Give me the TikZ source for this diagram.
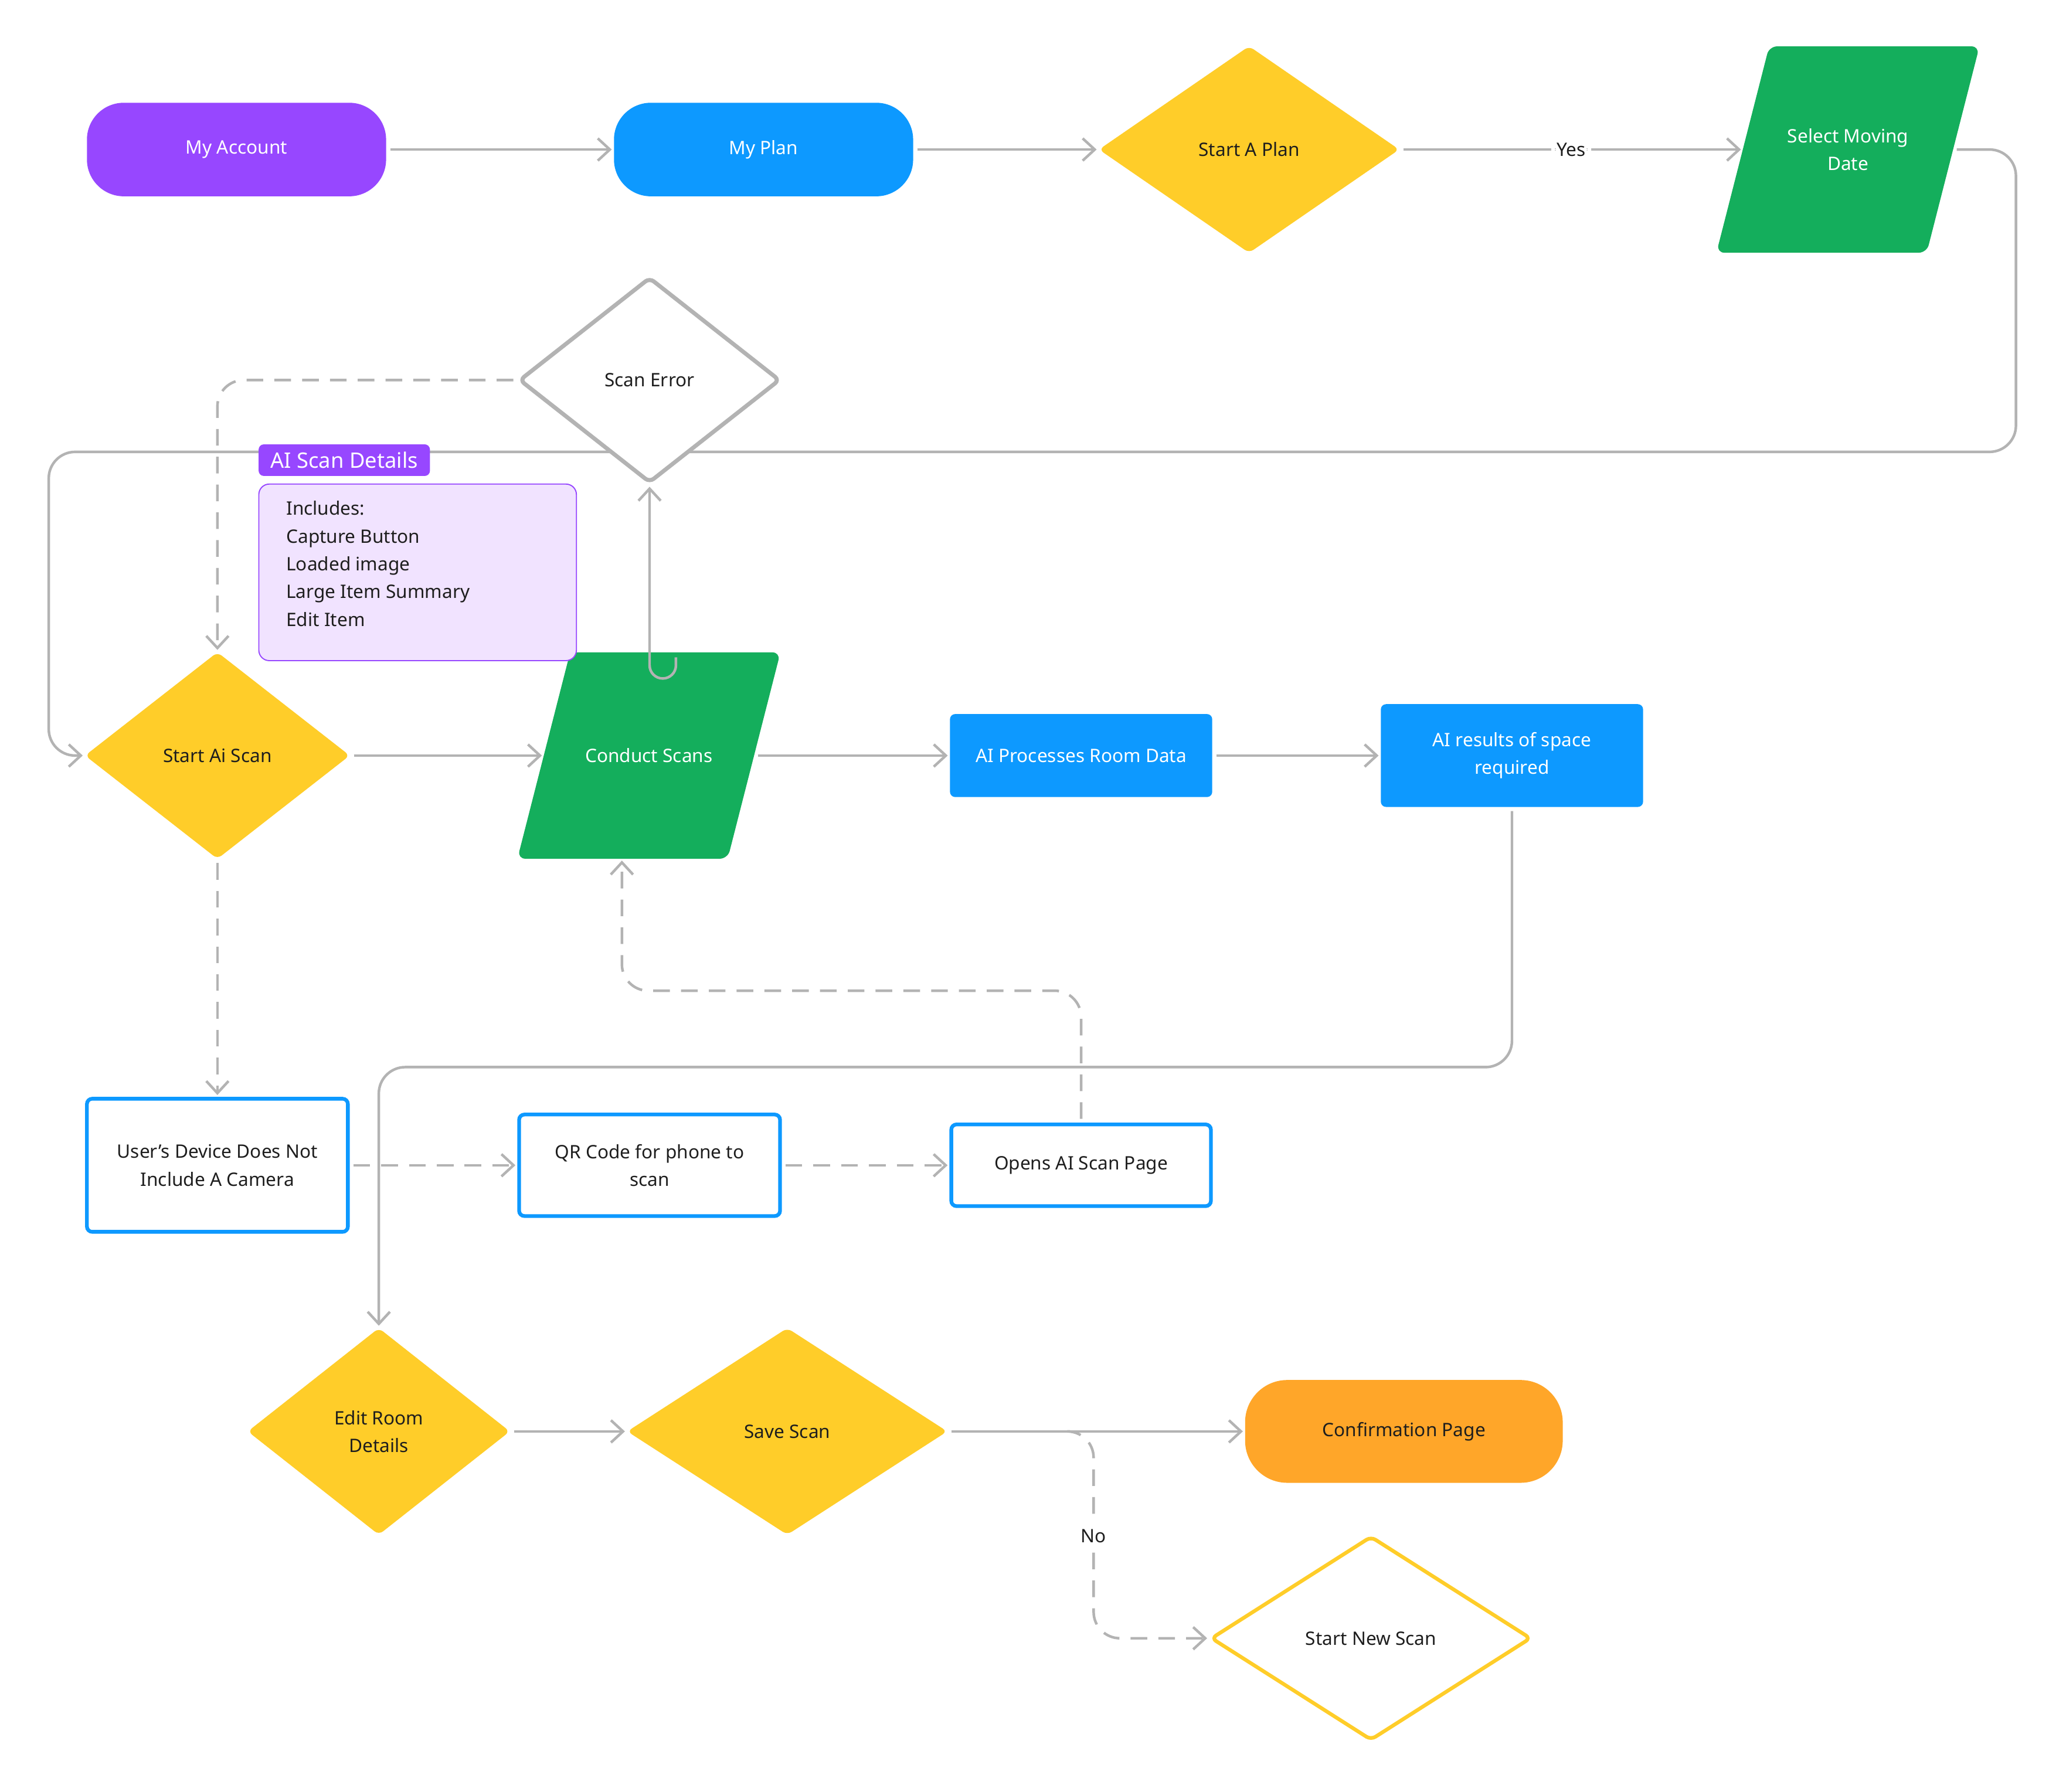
\documentclass[tikz,border=0pt]{standalone}
\usepackage{fontspec}
\setmainfont{Noto Sans}
\usetikzlibrary{shapes.geometric,arrows.meta}
\definecolor{purp}{HTML}{9747FF}
\definecolor{blu}{HTML}{0D99FF}
\definecolor{yel}{HTML}{FFCD29}
\definecolor{grn}{HTML}{14AE5C}
\definecolor{orn}{HTML}{FFA629}
\definecolor{gry}{HTML}{B3B3B3}
\definecolor{txt}{HTML}{1E1E1E}
\definecolor{lav}{HTML}{F1E3FF}
\pgfdeclarelayer{bg}
\pgfdeclarelayer{mid}
\pgfsetlayers{bg,mid,main}
\begin{document}
\begin{tikzpicture}[x=0.025cm,y=-0.025cm,
  base/.style={inner sep=0pt, font=\fontsize{10}{15}\selectfont, align=center, text=txt},
  pill/.style={base, rectangle, rounded corners=7mm},
  dia/.style={base, diamond, rounded corners=1mm},
  para/.style={base, rectangle, minimum width=39.75mm, minimum height=39mm},
  parafill/.style={fill=grn, rounded corners=1.5mm},
  box/.style={base, rectangle, rounded corners=1mm},
  wbox/.style={box, fill=white, draw=blu, line width=2pt},
  conn/.style={draw=gry, line width=1.4pt, -{Straight Barb[length=6.5pt,width=12pt]},
    rounded corners=5mm, shorten <=2pt, shorten >=1pt},
  dsh/.style={conn, dash pattern=on 9pt off 6pt},
  lbl/.style={base, fill=white, inner sep=3pt}
]
\useasboundingbox (0,0) rectangle (1568,1360);

% nodes
\node[pill, fill=purp, text=white, minimum width=56.75mm, minimum height=17.75mm] (acc) at (179.5,113.5) {My Account};
\node[pill, fill=blu, text=white, minimum width=56.75mm, minimum height=17.75mm] (plan) at (579.5,113.5) {My Plan};
\node[dia, fill=yel, minimum width=57mm, minimum height=39.25mm] (sap) at (948,113.5) {Start A Plan};
\node[para, text=white] (smd) at (1402.5,113.5) {Select Moving\\Date};
\node[dia, fill=white, draw=gry, line width=2.2pt, minimum width=49.5mm, minimum height=39mm] (se) at (493,288.5) {Scan Error};
\node[dia, fill=yel, minimum width=50.25mm, minimum height=39.25mm] (sas) at (165,573.5) {Start Ai Scan};
\node[para, text=white] (cs) at (492.5,573.5) {Conduct Scans};
\node[box, fill=blu, text=white, minimum width=49.75mm, minimum height=15.75mm] (aip) at (820.5,573.5) {AI Processes Room Data};
\node[box, fill=blu, text=white, minimum width=49.75mm, minimum height=19.5mm] (air) at (1147.5,573.5) {AI results of space\\required};
\node[wbox, minimum width=49.5mm, minimum height=25.25mm] (udev) at (165,884.5) {User’s Device Does Not\\Include A Camera};
\node[wbox, minimum width=49.5mm, minimum height=19.25mm] (qr) at (493,884.5) {QR Code for phone to\\scan};
\node[wbox, minimum width=49.25mm, minimum height=15.5mm] (oas) at (820.5,884.5) {Opens AI Scan Page};
\node[dia, fill=yel, minimum width=49.75mm, minimum height=39.25mm] (erd) at (287.5,1086.5) {Edit Room\\Details};
\node[dia, fill=yel, minimum width=60.75mm, minimum height=39.25mm] (ss) at (597.5,1086.5) {Save Scan};
\node[pill, fill=orn, minimum width=60.25mm, minimum height=19.5mm, rounded corners=8mm] (conf) at (1065.5,1086.5) {Confirmation Page};
\node[dia, fill=white, draw=yel, line width=2pt, minimum width=60.75mm, minimum height=38.75mm] (sns) at (1040.5,1243.5) {Start New Scan};

% parallelogram bodies
\begin{pgfonlayer}{mid}
\fill[parafill] ([xshift=5mm]smd.north west) -- ([xshift=5mm]smd.north east)
  -- ([xshift=-5mm]smd.south east) -- ([xshift=-5mm]smd.south west) -- cycle;
\fill[parafill] ([xshift=5mm]cs.north west) -- ([xshift=5mm]cs.north east)
  -- ([xshift=-5mm]cs.south east) -- ([xshift=-5mm]cs.south west) -- cycle;
\end{pgfonlayer}

% note
\node[rectangle, draw=purp, line width=0.6pt, fill=lav, rounded corners=2mm, minimum width=60.25mm, minimum height=33.5mm, anchor=north west, inner sep=0pt] (note) at (196,367) {};
\node[base, align=left, anchor=north west] (notetxt) at (217,380) {Includes:\\Capture Button\\Loaded image\\Large Item Summary\\Edit Item};
\node[rectangle, fill=purp, rounded corners=1mm, minimum width=32.5mm, minimum height=6mm, anchor=north west, inner sep=0pt, text=white, font=\fontsize{11.5}{14}\selectfont] (lab) at (196,337) {AI Scan Details};

\coordinate (c472) at (472,0);
\coordinate (nob) at (812,1086.5);
\coordinate (ustart) at (513,499);

% connectors
\begin{pgfonlayer}{bg}
\fill[white] (0,0) rectangle (1568,1360);
\draw[conn] (acc) -- (plan);
\draw[conn] (plan) -- (sap);
\draw[conn] (sap) -- node[lbl] (yes) {Yes} (smd);
\draw[conn] (smd) -- (1530,113.5) -- (1530,343) -- (37,343) -- (37,573.5) -- (sas);
\draw[dsh] (se) -- (165,288.5) -- (sas);
\draw[conn] (sas) -- (cs);
\draw[conn] (cs) -- (aip);
\draw[conn] (aip) -- (air);
\draw[conn] (air) -- (1147.5,810) -- (287.5,810) -- (erd);
\draw[dsh] (sas) -- (udev);
\draw[dsh] (udev) -- (qr);
\draw[dsh] (qr) -- (oas);
\draw[dsh] (oas) -- (820.5,752) -- (472,752) -- (c472 |- cs.south);
\draw[conn] (erd) -- (ss);
\draw[conn] (ss) -- (conf);
\draw[dsh, shorten <=0pt] (nob) -- (830,1086.5) -- (830,1243.5) -- (sns);
\end{pgfonlayer}
\draw[conn, rounded corners=2.5mm, shorten <=0pt] (ustart) -- (513,515) -- (493,515) -- (se);
\node[lbl] (no) at (830,1166) {No};
\end{tikzpicture}
\end{document}
